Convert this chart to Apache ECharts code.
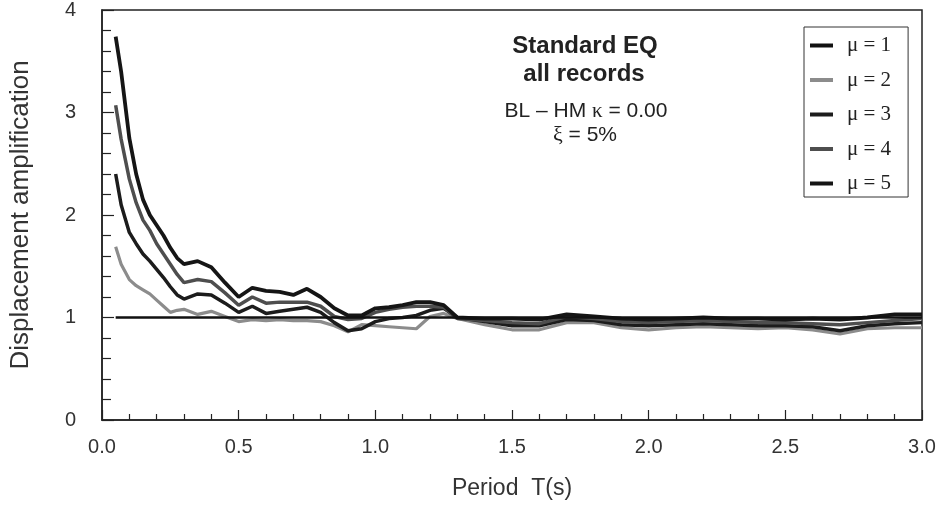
<!DOCTYPE html>
<html>
<head>
<meta charset="utf-8">
<script src="https://cdn.jsdelivr.net/npm/echarts@6/dist/echarts.min.js"></script>
<style>
html,body{margin:0;padding:0;background:#fff;}
#chart{width:943px;height:505px;}
</style>
</head>
<body>
<div id="chart"></div>
<script>
// Period values (s)
const periods = [0.05,0.07,0.1,0.125,0.15,0.175,0.2,0.225,0.25,0.275,0.3,0.35,0.4,0.45,0.5,0.55,0.6,0.65,0.7,0.75,0.8,0.85,0.9,0.95,1.0,1.05,1.1,1.15,1.2,1.25,1.3,1.4,1.5,1.6,1.7,1.8,1.9,2.0,2.1,2.2,2.3,2.4,2.5,2.6,2.7,2.8,2.9,3.0];

const mu1 = periods.map(() => 1);
const mu2 = [1.69,1.52,1.37,1.31,1.27,1.23,1.17,1.11,1.05,1.07,1.08,1.03,1.06,1.01,0.96,0.98,0.97,0.98,0.97,0.97,0.96,0.92,0.86,0.93,0.92,0.91,0.90,0.89,1.01,1.04,0.99,0.93,0.88,0.88,0.95,0.95,0.90,0.88,0.90,0.91,0.90,0.89,0.90,0.88,0.84,0.89,0.90,0.90];
const mu3 = [2.40,2.10,1.83,1.72,1.62,1.55,1.47,1.39,1.30,1.22,1.18,1.23,1.22,1.14,1.05,1.11,1.04,1.06,1.08,1.10,1.05,0.95,0.87,0.89,0.96,0.99,1.00,1.02,1.07,1.09,1.00,0.96,0.92,0.92,0.98,0.97,0.93,0.92,0.93,0.94,0.93,0.92,0.92,0.91,0.87,0.92,0.94,0.95];
const mu4 = [3.07,2.74,2.35,2.12,1.95,1.85,1.72,1.62,1.52,1.42,1.34,1.37,1.35,1.24,1.12,1.20,1.14,1.15,1.15,1.15,1.11,1.01,0.98,0.99,1.05,1.08,1.10,1.11,1.11,1.10,0.99,0.97,0.95,0.94,1.01,0.99,0.96,0.95,0.96,0.97,0.96,0.95,0.95,0.94,0.93,0.95,0.97,0.99];
const mu5 = [3.74,3.40,2.75,2.40,2.15,2.00,1.90,1.80,1.68,1.58,1.52,1.55,1.49,1.34,1.20,1.29,1.26,1.25,1.22,1.28,1.20,1.09,1.02,1.02,1.09,1.10,1.12,1.15,1.15,1.12,1.00,0.99,0.99,0.98,1.03,1.01,0.99,0.98,0.99,1.00,0.99,0.99,0.98,0.99,0.98,1.00,1.03,1.03];

const seriesNames = ['\u03bc = 1','\u03bc = 2','\u03bc = 3','\u03bc = 4','\u03bc = 5'];
const seriesValues = [mu1, mu2, mu3, mu4, mu5];
const xTicks = [0, 0.5, 1.0, 1.5, 2.0, 2.5, 3.0];
const yTicks = [0, 1, 2, 3, 4];

const colors = ['#111111','#8c8c8c','#1c1c1c','#4e4e4e','#151515'];
const widths = [2.5, 3.2, 3.5, 3.5, 3.8];
const zs = [10, 3, 4, 5, 6];

const chart = echarts.init(document.getElementById('chart'), null, {renderer:'canvas'});

const series = seriesValues.map((vals, i) => ({
  name: seriesNames[i],
  type: 'line',
  showSymbol: false,
  symbol: 'none',
  smooth: false,
  z: zs[i],
  lineStyle: {color: colors[i], width: widths[i]},
  itemStyle: {color: colors[i]},
  data: periods.map((p, k) => [p, vals[k]])
}));

const sans = '"Liberation Sans", Arial, sans-serif';
const serif = '"Liberation Serif", "Times New Roman", serif';

chart.setOption({
  backgroundColor: '#ffffff',
  animation: false,
  grid: {left: 96, right: 21, top: 9, bottom: 84, show: true, borderColor: '#222', borderWidth: 1.5},
  legend: {
    data: seriesNames,
    orient: 'vertical',
    left: 804, top: 27,
    icon: 'rect',
    itemWidth: 23, itemHeight: 4,
    itemGap: 13.5,
    padding: [8, 17, 3, 6],
    borderColor: '#333', borderWidth: 1,
    textStyle: {fontFamily: serif, fontSize: 21, color: '#222', padding: [0,0,0,9]}
  },
  xAxis: {
    type: 'value', min: xTicks[0], max: xTicks[xTicks.length-1], interval: 0.5,
    name: 'Period  T(s)', nameLocation: 'middle', nameGap: 57,
    nameTextStyle: {fontFamily: sans, fontSize: 23, color: '#333'},
    axisLine: {show: true, lineStyle: {color: '#222', width: 1.5}},
    axisTick: {show: true, inside: true, length: 10, lineStyle: {color: '#222', width: 1.2}},
    minorTick: {show: true, splitNumber: 5, length: 6, lineStyle: {color: '#222', width: 1.2}},
    axisLabel: {fontFamily: sans, fontSize: 20, color: '#333', margin: 17, formatter: v => v.toFixed(1)},
    splitLine: {show: false}
  },
  yAxis: {
    type: 'value', min: yTicks[0], max: yTicks[yTicks.length-1], interval: 1,
    name: 'Displacement amplification', nameLocation: 'middle', nameGap: 68, nameRotate: 90,
    nameTextStyle: {fontFamily: sans, fontSize: 26, color: '#333'},
    axisLine: {show: true, lineStyle: {color: '#222', width: 1.5}},
    axisTick: {show: true, inside: true, length: 12, lineStyle: {color: '#222', width: 1.2}},
    minorTick: {show: true, splitNumber: 5, length: 9, lineStyle: {color: '#222', width: 1.2}},
    axisLabel: {fontFamily: sans, fontSize: 20, color: '#333', margin: 26},
    splitLine: {show: false}
  },
  graphic: [
    {type: 'text', x: 585, y: 46, style: {text: 'Standard EQ', fontFamily: sans, fontWeight: 'bold', fontSize: 24, fill: '#222', align: 'center', verticalAlign: 'middle'}},
    {type: 'text', x: 584, y: 74, style: {text: 'all records', fontFamily: sans, fontWeight: 'bold', fontSize: 24, fill: '#222', align: 'center', verticalAlign: 'middle'}},
    {type: 'text', x: 586, y: 111, style: {text: 'BL \u2013 HM {g|\u03ba} = 0.00', fontFamily: sans, fontSize: 21, fill: '#222', align: 'center', verticalAlign: 'middle', rich: {g: {fontFamily: serif, fontSize: 21, fill: '#222'}}}},
    {type: 'text', x: 585, y: 135, style: {text: '{g|\u03be} = 5%', fontFamily: sans, fontSize: 21, fill: '#222', align: 'center', verticalAlign: 'middle', rich: {g: {fontFamily: serif, fontSize: 22, fill: '#222'}}}}
  ],
  series: series
});
</script>
</body>
</html>
